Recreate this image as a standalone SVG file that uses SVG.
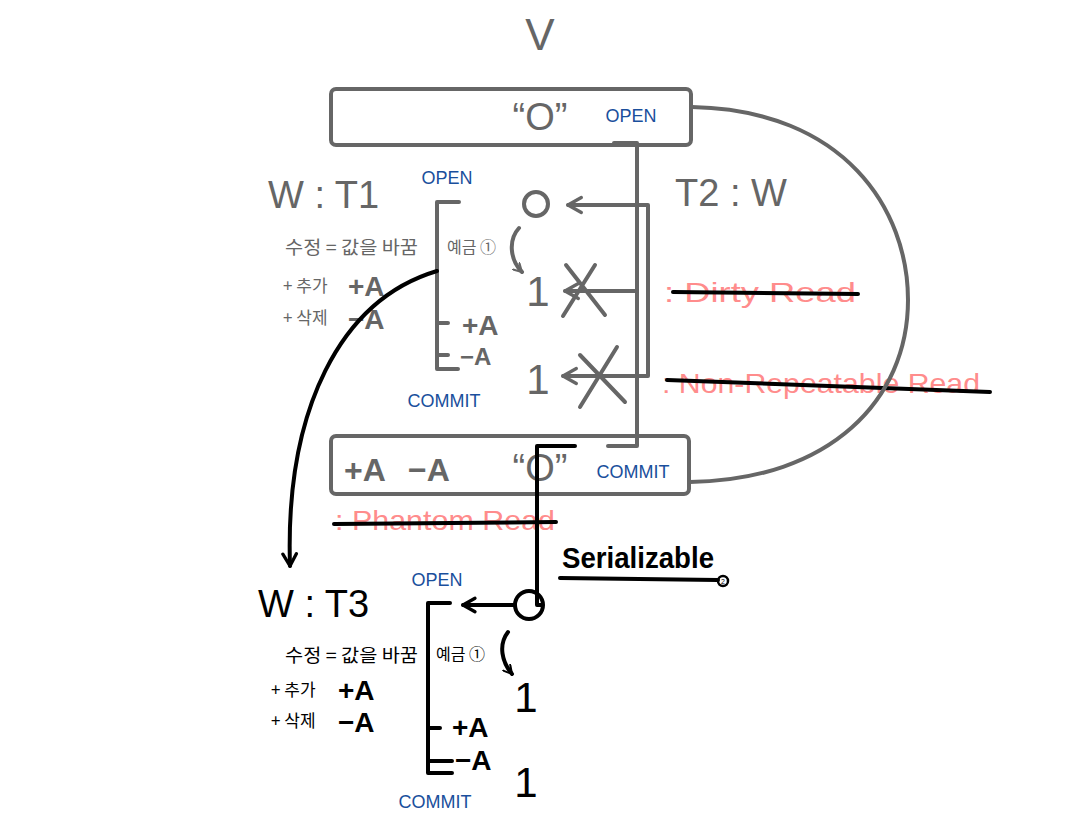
<svg xmlns="http://www.w3.org/2000/svg" width="1070" height="837" viewBox="0 0 1070 837">
<defs>
<style>
.g{fill:none;stroke:#666;stroke-width:4;stroke-linecap:round;stroke-linejoin:round}
.k{fill:none;stroke:#000;stroke-width:4;stroke-linecap:round;stroke-linejoin:round}
.gt{fill:#666;font-family:"Liberation Sans","Noto Sans CJK KR",sans-serif}
.kt{fill:#000;font-family:"Liberation Sans","Noto Sans CJK KR",sans-serif}
.bt{fill:#1a4f9c;font-family:"Liberation Sans Narrow","Liberation Sans",sans-serif;font-size:18px}
.rt{fill:#ff8c8c;font-family:"Liberation Sans",sans-serif;font-size:28px}
.kr{font-family:"Noto Sans CJK KR",sans-serif}
</style>
<marker id="ags" viewBox="0 0 12 12" refX="2" refY="6" markerWidth="20" markerHeight="20" markerUnits="userSpaceOnUse" orient="auto"><path d="M10,1.5 L2,6 L10,10.5" fill="none" stroke="#666" stroke-width="2" stroke-linecap="round" stroke-linejoin="round"/></marker>
<marker id="ag" viewBox="0 0 12 12" refX="10" refY="6" markerWidth="20" markerHeight="20" markerUnits="userSpaceOnUse" orient="auto"><path d="M2,1.5 L10,6 L2,10.5" fill="none" stroke="#666" stroke-width="2" stroke-linecap="round" stroke-linejoin="round"/></marker>
<marker id="ak" viewBox="0 0 12 12" refX="10" refY="6" markerWidth="18" markerHeight="18" markerUnits="userSpaceOnUse" orient="auto"><path d="M2,1.5 L10,6 L2,10.5" fill="none" stroke="#000" stroke-width="2.2" stroke-linecap="round" stroke-linejoin="round"/></marker>
<marker id="agc" viewBox="0 0 12 12" refX="10" refY="6" markerWidth="11" markerHeight="11" markerUnits="userSpaceOnUse" orient="auto"><path d="M1,1 L10,6 L1,11" fill="none" stroke="#666" stroke-width="2.2" stroke-linecap="round"/></marker>
<marker id="akc" viewBox="0 0 12 12" refX="10" refY="6" markerWidth="11" markerHeight="11" markerUnits="userSpaceOnUse" orient="auto"><path d="M1,1 L10,6 L1,11" fill="none" stroke="#000" stroke-width="2.2" stroke-linecap="round"/></marker>
</defs>
<rect width="1070" height="837" fill="#fff"/>

<g id="V">
<text class="gt" x="540" y="50" font-size="44" text-anchor="middle">V</text>
<rect class="g" x="331" y="89" width="360" height="56" rx="5"/>
<text class="gt" x="540" y="130" font-size="38" text-anchor="middle">“O”</text>
<text class="bt" x="631" y="122" text-anchor="middle">OPEN</text>
</g>

<g id="VCommit">
<rect class="g" x="331" y="436" width="358" height="58" rx="5"/>
<text class="gt" x="344" y="481" font-size="32" font-weight="bold">+A</text>
<text class="gt" x="408" y="481" font-size="32" font-weight="bold">−A</text>
<text class="gt" x="540" y="481" font-size="38" text-anchor="middle">“O”</text>
<text class="bt" x="633" y="478" text-anchor="middle">COMMIT</text>
</g>

<g id="T1">
<text class="gt" x="268" y="208" font-size="38">W : T1</text>
<text class="bt" x="447" y="184" text-anchor="middle">OPEN</text>
<text class="bt" x="444" y="407" text-anchor="middle">COMMIT</text>
<path class="g" d="M459,202 L437,202 L437,369 L458,369 M437,323 L448,323 M437,355 L448,355"/>
<text class="gt kr" x="285" y="254" font-size="18" textLength="133" lengthAdjust="spacingAndGlyphs">수정 = 값을 바꿈</text>
<text class="gt kr" x="283" y="292" font-size="17">+ 추가</text>
<text class="gt kr" x="283" y="324" font-size="17">+ 삭제</text>
<text class="gt" x="348" y="296" font-size="28" font-weight="bold">+A</text>
<text class="gt" x="348" y="329" font-size="28" font-weight="bold">−A</text>
<text class="gt" x="462" y="335" font-size="28" font-weight="bold">+A</text>
<text class="gt" x="460" y="365" font-size="24" font-weight="bold">−A</text>
<text class="gt kr" x="447" y="253" font-size="16">예금 ①</text>
<circle class="g" cx="536" cy="204" r="12"/>
<text class="gt" x="538" y="306" font-size="42" text-anchor="middle">1</text>
<text class="gt" x="538" y="394" font-size="42" text-anchor="middle">1</text>
<path class="g" stroke-width="2.5" d="M519,228 C508,240 510,260 522,272" marker-end="url(#agc)"/>
</g>

<g id="T2">
<text class="gt" x="675" y="206" font-size="38">T2 : W</text>
</g>

<g id="anomalies">
<text class="rt" x="664" y="302" textLength="192" lengthAdjust="spacingAndGlyphs">: Dirty Read</text>
<text class="rt" x="662" y="393" textLength="318" lengthAdjust="spacingAndGlyphs">: Non-Repeatable Read</text>
<text class="rt" x="335" y="530" textLength="220" lengthAdjust="spacingAndGlyphs">: Phantom Read</text>
<path class="k" d="M673,292 L858,294 M667,380 L990,392 M334,524 L556,522"/>
</g>

<g id="serial">
<text class="kt" x="562" y="568" font-size="30" font-weight="bold" textLength="152" lengthAdjust="spacingAndGlyphs">Serializable</text>
<path class="k" d="M560,578 L718,580"/>
<circle cx="723" cy="581" r="5" fill="none" stroke="#000" stroke-width="2.5"/>
<text class="kt" x="723" y="584" font-size="7" text-anchor="middle">2</text>
</g>

<g id="T3">
<text class="kt" x="258" y="617" font-size="38">W : T3</text>
<text class="bt" x="437" y="586" text-anchor="middle">OPEN</text>
<text class="bt" x="435" y="808" text-anchor="middle">COMMIT</text>
<path class="k" d="M450,603 L428,603 L428,773 L452,773 M428,728 L440,728 M428,761 L452,761"/>
<text class="kt kr" x="285" y="662" font-size="18" textLength="133" lengthAdjust="spacingAndGlyphs">수정 = 값을 바꿈</text>
<text class="kt kr" x="271" y="696" font-size="17">+ 추가</text>
<text class="kt kr" x="271" y="727" font-size="17">+ 삭제</text>
<text class="kt" x="338" y="700" font-size="28" font-weight="bold">+A</text>
<text class="kt" x="338" y="732" font-size="28" font-weight="bold">−A</text>
<text class="kt" x="452" y="737" font-size="28" font-weight="bold">+A</text>
<text class="kt" x="455" y="770" font-size="28" font-weight="bold">−A</text>
<text class="kt kr" x="436" y="660" font-size="16">예금 ①</text>
<text class="kt" x="526" y="712" font-size="42" text-anchor="middle">1</text>
<text class="kt" x="526" y="797" font-size="42" text-anchor="middle">1</text>
<path class="k" stroke-width="2.5" d="M508,632 C498,645 502,662 512,674" marker-end="url(#akc)"/>
<circle class="k" cx="529" cy="605" r="14"/>
</g>

<g id="connectors">
<path class="g" d="M614,143 L637,143 L637,446 L608,446"/>
<path class="g" d="M637,291 L565,291" marker-end="url(#ag)"/>
<path class="g" d="M568,205 L648,205 L648,376 L563,376" marker-start="url(#ags)" marker-end="url(#ag)"/>
<path class="g" d="M566,265 L605,315 M595,265 L563,316 M580,355 L625,402 M617,347 L580,407"/>
<path class="g" d="M692,107 C845,110 908,210 908,300 C908,400 830,480 690,482"/>
<path class="k" d="M437,271 C340,300 285,410 290,566" marker-end="url(#ak)"/>
<path class="k" d="M575,446 L537,446 L537,605 L541,605"/>
<path class="k" d="M515,605 L463,605" marker-end="url(#ak)"/>
</g>
</svg>
